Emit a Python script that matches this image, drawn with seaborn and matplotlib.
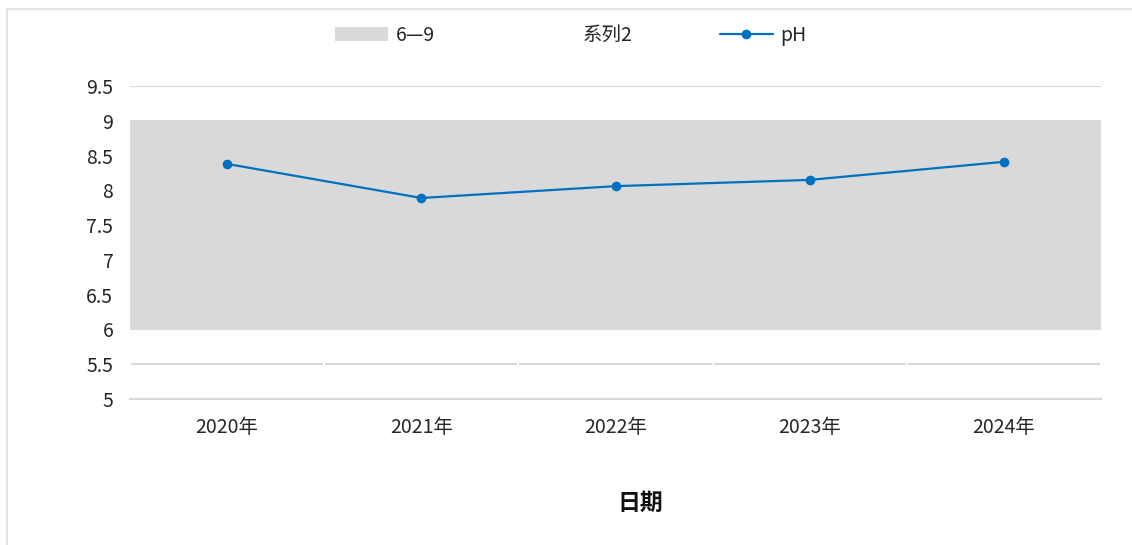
import matplotlib
matplotlib.use("Agg")
import matplotlib.pyplot as plt
import seaborn as sns
import pandas as pd
from matplotlib.patches import Patch
from matplotlib.lines import Line2D

years = ["2020年", "2021年", "2022年", "2023年", "2024年"]
ph = [8.38, 7.89, 8.06, 8.15, 8.41]
series2 = [6, 6, 6, 6, 6]          # lower (white) stacked series
band = [3, 3, 3, 3, 3]             # 6—9 band stacked on top
yticks = [5, 5.5, 6, 6.5, 7, 7.5, 8, 8.5, 9, 9.5]

sns.set_theme(style="white")
plt.rcParams["font.family"] = ["Noto Sans CJK SC", "DejaVu Sans"]
text_color = "#262626"
grid_color = "#D9D9D9"

fig = plt.figure(figsize=(11.32, 5.45), dpi=100)
ax = fig.add_axes([130 / 1132, 1 - 399 / 545, (1101 - 130) / 1132, (399 - 86) / 545])

x = list(range(len(years)))

# stacked bars with no gap, as in the spreadsheet chart
ax.bar(x, series2, width=1.0, facecolor="none", edgecolor="white", linewidth=1.2, zorder=2)
ax.bar(x, band, bottom=series2, width=1.0, color=grid_color, edgecolor=grid_color,
       linewidth=0.6, zorder=2)

df = pd.DataFrame({"year": x, "pH": ph})
sns.lineplot(data=df, x="year", y="pH", ax=ax, color="#0070C0", linewidth=1.6,
             marker="o", markersize=7, markeredgewidth=0, zorder=3)

ax.set_xlim(-0.5, len(years) - 0.5)
ax.set_ylim(5, 9.5)
ax.set_yticks(yticks)
ax.set_yticklabels([f"{v:g}" for v in yticks])
ax.set_xticks(x)
ax.set_xticklabels(years)
ax.yaxis.grid(True, color=grid_color, linewidth=1.5, zorder=0)
ax.set_axisbelow(True)
for s in ["top", "right", "left"]:
    ax.spines[s].set_visible(False)
ax.spines["bottom"].set_color(grid_color)
ax.spines["bottom"].set_linewidth(1.5)
ax.spines["bottom"].set_zorder(4)
ax.tick_params(axis="y", length=0, pad=12, labelsize=14, labelcolor=text_color)
ax.tick_params(axis="x", length=0, pad=13, labelsize=14, labelcolor=text_color)
ax.set_xlabel("")
ax.set_ylabel("")

fig.text(640 / 1132, 1 - 503 / 545, "日期", ha="center", va="center",
         fontsize=16.5, fontweight="bold", color="#111111")

handles = [
    Patch(facecolor=grid_color, edgecolor="none"),
    Patch(facecolor="white", edgecolor="none"),
    Line2D([0], [0], color="#0070C0", linewidth=1.6, marker="o", markersize=7,
           markeredgewidth=0),
]
fig.legend(handles, ["6—9", "系列2", "pH"], ncol=3, frameon=False,
           loc="center", bbox_to_anchor=(571 / 1132, 1 - 35 / 545),
           fontsize=14, handlelength=2.7, handleheight=0.7, handletextpad=0.4,
           columnspacing=4.5, labelcolor=text_color)

# outer chart border (left and top visible)
fig.add_artist(Line2D([7 / 1132, 7 / 1132], [0, 1 - 9 / 545], color="#E3E3E3",
                      linewidth=1.5, transform=fig.transFigure))
fig.add_artist(Line2D([7 / 1132, 1], [1 - 9 / 545, 1 - 9 / 545], color="#E3E3E3",
                      linewidth=1.5, transform=fig.transFigure))

fig.savefig("out.png", dpi=100, facecolor="white")
